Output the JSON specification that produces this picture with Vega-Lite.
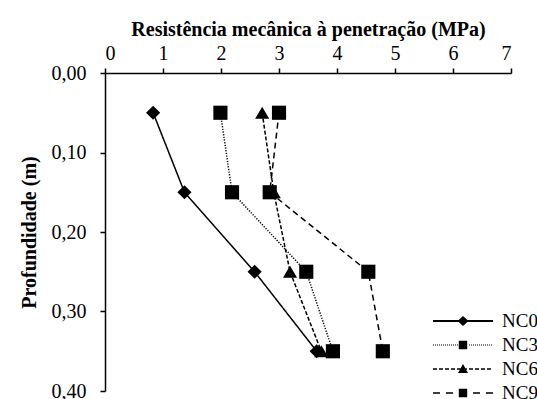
{
  "$schema": "https://vega.github.io/schema/vega-lite/v6.json",
  "width": 406,
  "height": 318,
  "autosize": "none",
  "padding": {"left": 105, "top": 73, "right": 26, "bottom": 8},
  "config": {
    "view": {"stroke": null},
    "font": "Liberation Serif",
    "axis": {
      "grid": false,
      "domainColor": "black",
      "tickColor": "black",
      "labelColor": "black",
      "titleColor": "black",
      "labelFont": "Liberation Serif",
      "titleFont": "Liberation Serif",
      "domainWidth": 1.5,
      "tickWidth": 1.5,
      "tickSize": 5,
      "labelFontSize": 20,
      "titleFontSize": 20,
      "titleFontWeight": "bold"
    }
  },
  "data": {
    "values": [
      {"series": "NC0", "mpa": 0.83, "depth": 0.05},
      {"series": "NC0", "mpa": 1.37, "depth": 0.15},
      {"series": "NC0", "mpa": 2.58, "depth": 0.25},
      {"series": "NC0", "mpa": 3.65, "depth": 0.35},
      {"series": "NC3", "mpa": 1.99, "depth": 0.05},
      {"series": "NC3", "mpa": 2.19, "depth": 0.15},
      {"series": "NC3", "mpa": 3.47, "depth": 0.25},
      {"series": "NC3", "mpa": 3.93, "depth": 0.35},
      {"series": "NC6", "mpa": 2.71, "depth": 0.05},
      {"series": "NC6", "mpa": 2.91, "depth": 0.15},
      {"series": "NC6", "mpa": 3.19, "depth": 0.25},
      {"series": "NC6", "mpa": 3.73, "depth": 0.35},
      {"series": "NC9", "mpa": 3.0, "depth": 0.05},
      {"series": "NC9", "mpa": 2.84, "depth": 0.15},
      {"series": "NC9", "mpa": 4.54, "depth": 0.25},
      {"series": "NC9", "mpa": 4.79, "depth": 0.35}
    ]
  },
  "encoding": {
    "x": {
      "field": "mpa",
      "type": "quantitative",
      "scale": {"domain": [0, 7], "nice": false, "zero": false},
      "axis": {
        "orient": "top",
        "title": "Resistência mecânica à penetração (MPa)",
        "values": [0, 1, 2, 3, 4, 5, 6, 7],
        "labelPadding": 5,
        "titlePadding": 4
      }
    },
    "y": {
      "field": "depth",
      "type": "quantitative",
      "scale": {"domain": [0, 0.4], "reverse": true, "nice": false, "zero": false},
      "axis": {
        "title": "Profundidade  (m)",
        "values": [0, 0.1, 0.2, 0.3, 0.4],
        "labelExpr": "replace(format(datum.value, '.2f'), '.', ',')",
        "labelPadding": 14,
        "titlePadding": 12
      }
    }
  },
  "layer": [
    {
      "mark": {"type": "line", "color": "black", "strokeWidth": 1.5},
      "encoding": {
        "strokeDash": {
          "field": "series",
          "type": "nominal",
          "scale": {"domain": ["NC0", "NC3", "NC6", "NC9"], "range": [[1, 0], [1.2, 1.5], [4, 2], [6, 4]]},
          "legend": null
        },
        "order": {"field": "depth", "type": "quantitative"}
      }
    },
    {
      "mark": {"type": "point", "filled": true, "color": "black", "opacity": 1, "size": 200},
      "encoding": {
        "shape": {
          "field": "series",
          "type": "nominal",
          "scale": {"domain": ["NC0", "NC3", "NC6", "NC9"], "range": ["diamond", "square", "triangle-up", "square"]},
          "legend": null
        }
      }
    },
    {
      "transform": [{"filter": "false"}],
      "mark": {"type": "point", "filled": true, "color": "black", "opacity": 1},
      "encoding": {
        "shape": {
          "field": "series",
          "type": "nominal",
          "scale": {
            "domain": ["NC0", "NC3", "NC6", "NC9"],
            "range": [
              "M-3,-0.1H3V0.1H-3ZM0,-0.5L0.55,0L0,0.5L-0.55,0Z",
              "M-3,-0.05h0.1v0.1h-0.1ZM-2.8,-0.05h0.1v0.1h-0.1ZM-2.6,-0.05h0.1v0.1h-0.1ZM-2.4,-0.05h0.1v0.1h-0.1ZM-2.2,-0.05h0.1v0.1h-0.1ZM-2,-0.05h0.1v0.1h-0.1ZM-1.8,-0.05h0.1v0.1h-0.1ZM-1.6,-0.05h0.1v0.1h-0.1ZM-1.4,-0.05h0.1v0.1h-0.1ZM-1.2,-0.05h0.1v0.1h-0.1ZM-1,-0.05h0.1v0.1h-0.1ZM-0.8,-0.05h0.1v0.1h-0.1ZM-0.6,-0.05h0.1v0.1h-0.1ZM0.6,-0.05h0.1v0.1h-0.1ZM0.8,-0.05h0.1v0.1h-0.1ZM1,-0.05h0.1v0.1h-0.1ZM1.2,-0.05h0.1v0.1h-0.1ZM1.4,-0.05h0.1v0.1h-0.1ZM1.6,-0.05h0.1v0.1h-0.1ZM1.8,-0.05h0.1v0.1h-0.1ZM2,-0.05h0.1v0.1h-0.1ZM2.2,-0.05h0.1v0.1h-0.1ZM2.4,-0.05h0.1v0.1h-0.1ZM2.6,-0.05h0.1v0.1h-0.1ZM2.8,-0.05h0.1v0.1h-0.1ZM-0.42,-0.42H0.42V0.42H-0.42Z",
              "M-3,-0.07h0.4v0.14h-0.4ZM-2.4,-0.07h0.4v0.14h-0.4ZM-1.8,-0.07h0.4v0.14h-0.4ZM-1.2,-0.07h0.4v0.14h-0.4ZM-0.6,-0.07h0.4v0.14h-0.4ZM0,-0.07h0.4v0.14h-0.4ZM0.6,-0.07h0.4v0.14h-0.4ZM1.2,-0.07h0.4v0.14h-0.4ZM1.8,-0.07h0.4v0.14h-0.4ZM2.4,-0.07h0.4v0.14h-0.4ZM0,-0.5L0.5,0.4H-0.5Z",
              "M-3,-0.07h0.7v0.14h-0.7ZM-1.7,-0.07h0.7v0.14h-0.7ZM1,-0.07h0.7v0.14h-0.7ZM2.3,-0.07h0.7v0.14h-0.7ZM-0.42,-0.42H0.42V0.42H-0.42Z"
            ]
          },
          "legend": {
            "title": null,
            "orient": "none",
            "legendX": 347,
            "legendY": 237,
            "padding": 0,
            "symbolSize": 400,
            "rowPadding": 3,
            "labelFont": "Liberation Serif",
            "labelFontSize": 19,
            "labelColor": "black",
            "labelOffset": 28,
            "encode": {
              "symbols": {
                "update": {
                  "fill": {"value": "black"},
                  "stroke": {"value": "transparent"},
                  "opacity": {"value": 1}
                }
              }
            }
          }
        }
      }
    }
  ],
  "resolve": {"scale": {"shape": "independent"}}
}
